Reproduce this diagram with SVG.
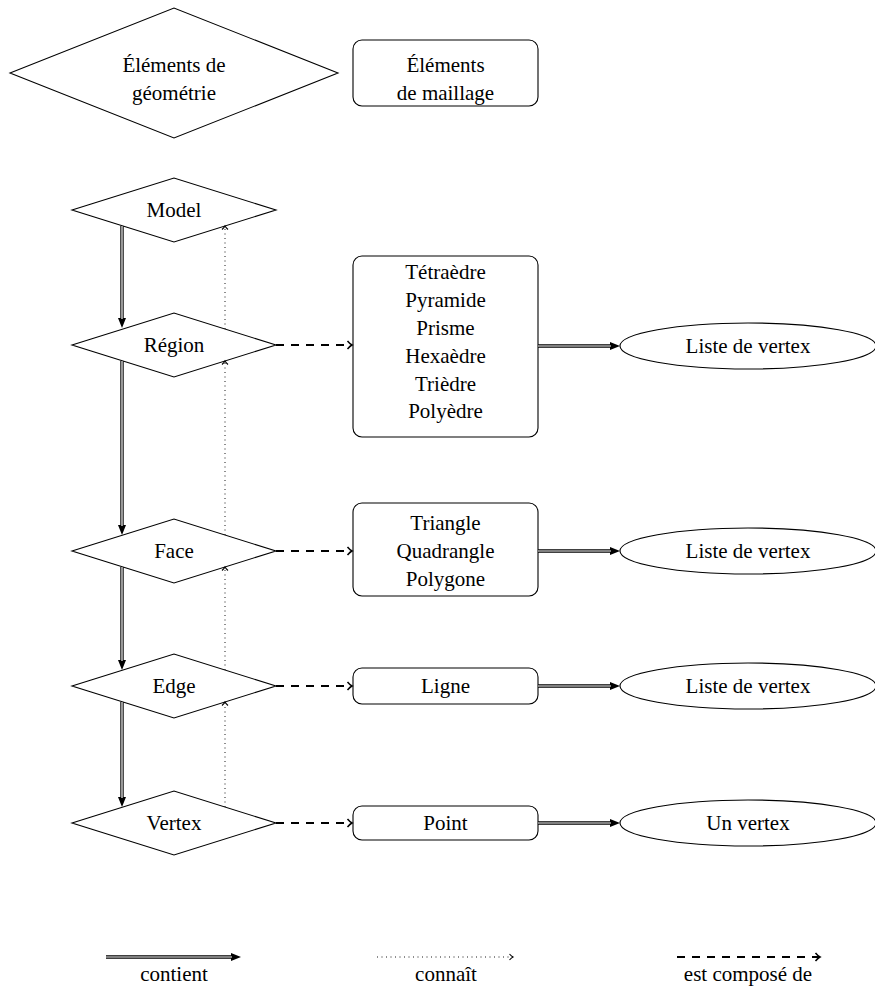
<svg xmlns="http://www.w3.org/2000/svg" width="875" height="988" viewBox="0 0 875 988" font-family="'Liberation Serif', 'Times New Roman', serif">
<style>
.shape{fill:#fff;stroke:#000;stroke-width:1.1}
text{font-family:"Liberation Serif","Times New Roman",serif;font-size:21px;fill:#000;text-anchor:middle;dominant-baseline:central}
.dblo{fill:none;stroke:#000;stroke-width:3.4}
.dbli{fill:none;stroke:#fff;stroke-width:1.2}
.dash{fill:none;stroke:#000;stroke-width:1.8;stroke-dasharray:8 7}
.dot{fill:none;stroke:#000;stroke-width:0.9;stroke-dasharray:1 3.5}
</style>
<defs>
<marker id="fill" markerUnits="userSpaceOnUse" viewBox="0 0 10 8" markerWidth="10" markerHeight="8" refX="5" refY="4" orient="auto">
<path d="M0,0 L10,4 L0,8 z" fill="#000"/>
</marker>
<marker id="chev" markerUnits="userSpaceOnUse" viewBox="0 0 8 10" markerWidth="8" markerHeight="10" refX="6" refY="5" orient="auto">
<path d="M1.5,1 Q4,4 6,5 Q4,6 1.5,9" fill="none" stroke="#000" stroke-width="1.5"/>
</marker>
<marker id="chevs" markerUnits="userSpaceOnUse" viewBox="0 0 8 10" markerWidth="8" markerHeight="10" refX="6" refY="5" orient="auto">
<path d="M2.5,2 Q4.5,4.2 6,5 Q4.5,5.8 2.5,8" fill="none" stroke="#000" stroke-width="1.1"/>
</marker>
</defs>

<g id="geom">
<polygon class="shape" points="10,73 174,8 338,73 174,138"/>
<text x="174" y="65">Éléments de</text>
<text x="174" y="93">géométrie</text>
</g>
<g id="maillage">
<rect class="shape" x="353" y="40" width="185" height="66" rx="9"/>
<text x="445.5" y="65">Éléments</text>
<text x="445.5" y="93">de maillage</text>
</g>

<g id="model">
<polygon class="shape" points="72,210 174,178 276,210 174,242"/>
<text x="174" y="210">Model</text>
</g>
<g id="region">
<polygon class="shape" points="72,345 174,313 276,345 174,377"/>
<text x="174" y="345">Région</text>
</g>
<g id="face">
<polygon class="shape" points="72,551 174,519 276,551 174,583"/>
<text x="174" y="551">Face</text>
</g>
<g id="edge">
<polygon class="shape" points="72,686 174,654 276,686 174,718"/>
<text x="174" y="686">Edge</text>
</g>
<g id="vertex">
<polygon class="shape" points="72,823 174,791 276,823 174,855"/>
<text x="174" y="823">Vertex</text>
</g>

<g id="volumes">
<rect class="shape" x="353" y="256" width="185" height="181" rx="9"/>
<text x="445.5" y="271.5">Tétraèdre</text>
<text x="445.5" y="299.5">Pyramide</text>
<text x="445.5" y="327.5">Prisme</text>
<text x="445.5" y="355.5">Hexaèdre</text>
<text x="445.5" y="383.5">Trièdre</text>
<text x="445.5" y="411">Polyèdre</text>
</g>
<g id="surfaces">
<rect class="shape" x="353" y="503" width="185" height="93" rx="9"/>
<text x="445.5" y="523">Triangle</text>
<text x="445.5" y="551">Quadrangle</text>
<text x="445.5" y="579">Polygone</text>
</g>
<g id="ligne">
<rect class="shape" x="353" y="668" width="185" height="36" rx="9"/>
<text x="445.5" y="686">Ligne</text>
</g>
<g id="point">
<rect class="shape" x="353" y="806" width="185" height="34" rx="9"/>
<text x="445.5" y="823">Point</text>
</g>

<g id="list1">
<ellipse class="shape" cx="748" cy="346" rx="128" ry="23"/>
<text x="748" y="346">Liste de vertex</text>
</g>
<g id="list2">
<ellipse class="shape" cx="748" cy="551" rx="128" ry="23"/>
<text x="748" y="551">Liste de vertex</text>
</g>
<g id="list3">
<ellipse class="shape" cx="748" cy="686" rx="128" ry="23"/>
<text x="748" y="686">Liste de vertex</text>
</g>
<g id="unvertex">
<ellipse class="shape" cx="748" cy="823" rx="128" ry="23"/>
<text x="748" y="823">Un vertex</text>
</g>

<g id="connectors">
<path class="dblo" d="M122,226 V323" marker-end="url(#fill)"/>
<path class="dbli" d="M122,226 V319"/>
<path class="dblo" d="M122,361 V530" marker-end="url(#fill)"/>
<path class="dbli" d="M122,361 V526"/>
<path class="dblo" d="M122,567 V665" marker-end="url(#fill)"/>
<path class="dbli" d="M122,567 V661"/>
<path class="dblo" d="M122,702 V802" marker-end="url(#fill)"/>
<path class="dbli" d="M122,702 V798"/>
<path class="dblo" d="M538,346 H615" marker-end="url(#fill)"/>
<path class="dbli" d="M538,346 H611"/>
<path class="dblo" d="M538,551 H615" marker-end="url(#fill)"/>
<path class="dbli" d="M538,551 H611"/>
<path class="dblo" d="M538,686 H615" marker-end="url(#fill)"/>
<path class="dbli" d="M538,686 H611"/>
<path class="dblo" d="M538,823 H615" marker-end="url(#fill)"/>
<path class="dbli" d="M538,823 H611"/>
<path class="dot" d="M225,329 V226" marker-end="url(#chevs)"/>
<path class="dot" d="M225,535 V361" marker-end="url(#chevs)"/>
<path class="dot" d="M225,670 V567" marker-end="url(#chevs)"/>
<path class="dot" d="M225,807 V702" marker-end="url(#chevs)"/>
<path class="dash" d="M276,345 H352" marker-end="url(#chev)"/>
<path class="dash" d="M276,551 H352" marker-end="url(#chev)"/>
<path class="dash" d="M276,686 H352" marker-end="url(#chev)"/>
<path class="dash" d="M276,823 H352" marker-end="url(#chev)"/>
</g>

<g id="legend">
<path class="dblo" d="M106,957 H236" marker-end="url(#fill)"/>
<path class="dbli" d="M106,957 H232"/>
<text x="174" y="974">contient</text>
<path class="dot" d="M377,957 H513" marker-end="url(#chevs)"/>
<text x="446" y="974">connaît</text>
<path class="dash" d="M677,957 H820" marker-end="url(#chev)"/>
<text x="748" y="974">est composé de</text>
</g>
</svg>
